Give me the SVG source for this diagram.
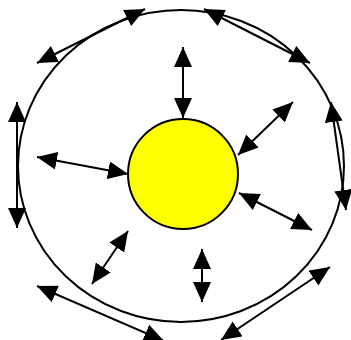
<svg xmlns="http://www.w3.org/2000/svg" width="351" height="340" viewBox="0 0 351 340">
<style>
.ln{stroke:#000;stroke-width:2;fill:none}
.arr{stroke:#000;stroke-width:2;fill:none;marker-start:url(#ah);marker-end:url(#ah)}
</style>
<defs>
<marker id="ah" markerUnits="userSpaceOnUse" markerWidth="20" markerHeight="18" refX="20" refY="9" orient="auto-start-reverse" viewBox="0 0 20 18">
<path d="M0,0 L20,9 L0,18 z" fill="#000"/>
</marker>
</defs>
<rect width="351" height="340" fill="#fff"/>
<g id="orbit"><ellipse class="ln" cx="181" cy="166" rx="163" ry="156"/></g>
<g id="sun"><circle cx="183" cy="174" r="55" fill="#ffff00" stroke="#000" stroke-width="2"/></g>
<g id="connectors">
<line class="arr" x1="183" y1="47" x2="183" y2="118"/>
<line class="arr" x1="293" y1="102" x2="238" y2="155"/>
<line class="arr" x1="239" y1="193" x2="312" y2="230"/>
<line class="arr" x1="202" y1="249" x2="202" y2="302"/>
<line class="arr" x1="128" y1="231" x2="92" y2="284"/>
<line class="arr" x1="37" y1="157" x2="128" y2="174"/>
<line class="arr" x1="37" y1="63" x2="145" y2="9"/>
<line class="arr" x1="204" y1="9" x2="310" y2="63"/>
<line class="arr" x1="331" y1="102" x2="346" y2="210"/>
<line class="arr" x1="330" y1="267" x2="221" y2="340"/>
<line class="arr" x1="37" y1="286" x2="164" y2="341"/>
<line class="arr" x1="17" y1="102" x2="17" y2="228"/>
</g>
</svg>
